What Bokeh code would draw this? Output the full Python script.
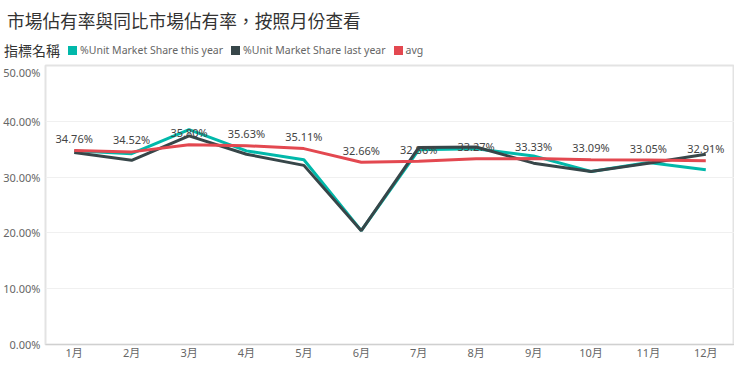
from bokeh.plotting import figure
from bokeh.layouts import column
from bokeh.models import (ColumnDataSource, FactorRange, Range1d, FixedTicker,
                          PrintfTickFormatter, Div)
from bokeh.core.properties import value
from bokeh.embed import file_html
from bokeh.resources import INLINE

title_text = "市場佔有率與同比市場佔有率，按照月份查看"
legend_title = "指標名稱"
series_names = ["%Unit Market Share this year", "%Unit Market Share last year", "avg"]
months = ["1月", "2月", "3月", "4月", "5月", "6月", "7月", "8月", "9月", "10月", "11月", "12月"]
this_year = [34.7, 34.2, 38.5, 34.7, 33.1, 20.4, 34.9, 35.1, 33.8, 31.0, 32.6, 31.3]
last_year = [34.4, 33.0, 37.4, 34.1, 32.1, 20.4, 35.3, 35.4, 32.5, 31.0, 32.5, 34.1]
avg = [34.76, 34.52, 35.80, 35.63, 35.11, 32.66, 32.86, 33.27, 33.33, 33.09, 33.05, 32.91]
avg_labels = ["%.2f%%" % v for v in avg]
y_ticks = [0, 10, 20, 30, 40, 50]

TEAL = "#01B8AA"
DARK = "#374649"
RED = "#E34850"
COLORS = [TEAL, DARK, RED]
FONT = "Noto Sans, Noto Sans CJK TC"

W = 734
HEAD_H = 54
MAIN_H = 298

# ---------- header: title + legend (HTML text) ----------
legend_html = "".join(
    f'<span style="display:inline-block;width:9px;height:9px;background:{c};'
    f'margin-left:8px;margin-right:3px;vertical-align:middle;"></span>'
    f'<span style="font-family:\'Noto Sans\';font-size:10.5px;color:#666666;'
    f'vertical-align:middle;">{n}</span>'
    for n, c in zip(series_names, COLORS))
header_html = (
    f'<div style="position:relative;width:{W}px;height:{HEAD_H}px;">'
    f'<div style="position:absolute;left:2px;top:4px;font-family:\'Noto Sans CJK TC\';'
    f'font-size:17.7px;line-height:22px;color:#333333;white-space:nowrap;">{title_text}</div>'
    f'<div style="position:absolute;left:-1px;top:37px;line-height:17px;white-space:nowrap;">'
    f'<span style="font-family:\'Noto Sans CJK TC\';font-size:14px;color:#333333;'
    f'vertical-align:middle;">{legend_title}</span>{legend_html}</div></div>')
header = Div(text=header_html, width=W, height=HEAD_H)

# ---------- main chart ----------
src = ColumnDataSource(dict(m=months, ty=this_year, ly=last_year, avg=avg, lab=avg_labels))

p = figure(width=W, height=MAIN_H, output_backend="svg", toolbar_location=None,
           x_range=FactorRange(*months, range_padding=0), y_range=Range1d(0, 50))
p.min_border_left = 41
p.min_border_right = 0
p.min_border_top = 1
p.min_border_bottom = 0

p.line("m", "ty", source=src, line_color=TEAL, line_width=3)
p.line("m", "ly", source=src, line_color=DARK, line_width=3)
p.line("m", "avg", source=src, line_color=RED, line_width=3)

p.text("m", "avg", text="lab", source=src, y_offset=-12, text_align="center",
       text_baseline="middle", text_font=value(FONT), text_font_size="11px",
       text_color="#444444")

p.yaxis.ticker = FixedTicker(ticks=y_ticks)
p.yaxis.formatter = PrintfTickFormatter(format="%.2f%%")
for ax in (p.xaxis, p.yaxis):
    ax.axis_label = None
    ax.axis_line_color = None
    ax.major_tick_line_color = None
    ax.minor_tick_line_color = None
    ax.major_tick_out = 0
    ax.major_tick_in = 0
    ax.minor_tick_out = 0
    ax.minor_tick_in = 0
    ax.major_label_text_font = FONT
    ax.major_label_text_font_size = "11px"
    ax.major_label_text_color = "#666666"
p.xaxis.axis_line_color = "#d0d0d0"
p.xaxis.major_label_standoff = 0
p.yaxis.major_label_standoff = 5
p.xgrid.grid_line_color = None
p.ygrid.grid_line_color = "#f0f0f0"
p.outline_line_color = "#e3e3e3"
p.outline_line_width = 2

layout = column(header, p, spacing=0)
open("out.html", "w").write(file_html(layout, INLINE))
